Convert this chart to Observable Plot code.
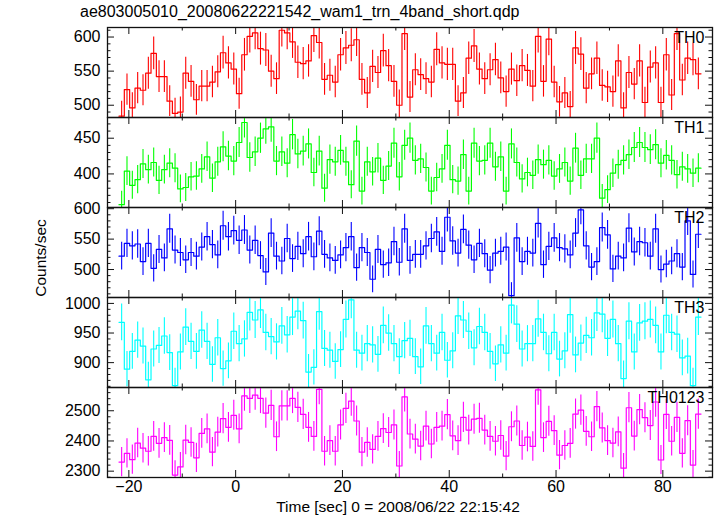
<!DOCTYPE html>
<html><head><meta charset="utf-8">
<script src="https://cdn.jsdelivr.net/npm/d3@7"></script>
<script src="https://cdn.jsdelivr.net/npm/@observablehq/plot@0.6"></script>
<style>
body{margin:0;background:#fff;font-family:"Liberation Sans",Arial,Helvetica,sans-serif;}
#chart{position:relative;width:717px;height:516px;overflow:hidden;background:#fff;}
#chart svg{position:absolute;left:0;}
#title{position:absolute;left:80px;top:4px;font-size:16px;line-height:16px;white-space:nowrap;color:#000;}
#ylab{position:absolute;left:41px;top:258px;font-size:15.5px;line-height:16px;white-space:nowrap;transform:translate(-50%,-50%) rotate(-90deg);color:#000;}
#xlab{position:absolute;left:398px;top:499px;font-size:15.5px;line-height:16px;white-space:nowrap;transform:translateX(-50%);color:#000;}
</style></head>
<body>
<div id="chart">
  <div id="title">ae803005010_20080622221542_wam1_trn_4band_short.qdp</div>
  <div id="ylab">Counts/sec</div>
  <div id="xlab">Time [sec] 0 = 2008/06/22 22:15:42</div>
</div>
<script>
// ---- data ----
const binStart = -21.85;   // start time of first 1-s bin
const binWidth = 1;
const names = ["TH0", "TH1", "TH2", "TH3", "TH0123"];
const colors = ["#ff0000", "#00ff00", "#0000ff", "#00ffff", "#ff00ff"];

const th0 = [484,523,496,525,522,547,576,542,542,506,488,490,547,535,508,528,528,534,549,577,
  562,553,517,574,601,606,583,581,550,539,610,606,593,563,561,565,602,592,538,544,
  534,574,584,588,596,538,518,557,548,580,558,535,500,605,512,552,545,539,534,582,
  562,560,560,506,518,569,587,553,539,552,567,540,520,553,536,558,551,528,601,535,
  597,534,505,518,498,584,575,525,546,569,529,527,520,565,496,548,531,565,504,556,
  562,504,574,515,605,537,569,567,546];

const th1 = [357,404,384,392,414,406,416,391,406,415,408,379,381,396,397,407,424,394,417,438,
  425,418,444,472,423,431,450,463,466,418,431,415,455,428,432,442,402,432,380,420,
  417,433,417,385,446,376,417,403,422,391,411,443,396,440,450,419,421,409,376,395,
  407,440,392,390,427,376,443,418,419,443,410,424,376,442,416,393,402,398,420,413,
  419,397,407,416,390,436,398,421,421,450,366,378,401,413,419,427,437,444,437,434,
  441,415,426,419,399,410,407,401,408];

const th2 = [522,543,539,542,513,543,502,533,519,567,532,528,516,528,522,537,554,541,524,572,
  554,564,548,565,532,548,523,496,560,522,514,551,518,538,526,554,521,563,525,519,
  515,524,536,554,503,536,528,484,533,508,511,546,512,567,515,525,525,539,551,562,
  530,586,547,527,566,540,516,543,526,499,527,530,537,457,552,513,530,527,576,508,
  538,552,536,534,524,560,598,539,504,513,569,557,501,522,519,568,529,546,544,522,
  567,500,509,514,526,504,580,492,558];

const th3 = [968,889,919,938,928,871,923,929,945,917,861,918,960,936,919,955,936,897,942,890,
  903,953,932,940,985,972,989,951,944,935,962,947,977,987,971,884,892,986,924,921,
  902,922,973,1006,921,916,932,930,914,963,950,932,910,937,941,910,893,962,932,916,
  951,904,920,979,972,953,925,961,951,919,898,930,916,997,965,923,932,932,974,951,
  915,951,906,920,981,913,933,946,942,984,982,941,973,932,873,970,918,967,970,973,
  963,918,980,951,948,908,911,861,977];

const th0123 = [2330,2359,2338,2393,2376,2366,2415,2392,2411,2402,2287,2314,2403,2395,2344,2425,2440,2363,2429,2474,
  2445,2485,2440,2549,2541,2552,2541,2492,2518,2414,2516,2516,2541,2511,2488,2445,2415,2571,2366,2401,
  2366,2453,2508,2532,2466,2363,2395,2372,2415,2441,2428,2453,2317,2546,2423,2406,2383,2449,2390,2445,
  2449,2487,2417,2401,2478,2436,2472,2475,2436,2415,2399,2418,2350,2447,2466,2385,2413,2382,2569,2411,
  2465,2434,2353,2385,2392,2489,2502,2432,2414,2514,2443,2401,2393,2430,2310,2510,2416,2504,2477,2451,
  2529,2337,2488,2399,2478,2359,2467,2320,2489];

const series = [th0, th1, th2, th3, th0123];
const yDomains = [[482, 614], [353, 479], [454, 602], [858, 1010], [2279, 2577]];
const yMajorTicks = [[500, 550, 600], [400, 450], [500, 550, 600], [900, 950, 1000], [2300, 2400, 2500]];
const yMinorStep = [10, 10, 10, 10, 20];
const xDomain = [-24, 89.3];
const xMajorTicks = [-20, 0, 20, 40, 60, 80];
const xMinorTicks = [-10, 10, 30, 50, 70];

// ---- layout ----
const W = 717, mL = 107, mR = 5;
const panelTop0 = 27, panelH = 90, pad = 12, bottomM = 44;
const innerW = W - mL - mR;
const majorLen = 7, minorLen = 3.5;
const frameColor = "#111";
const fmt = d => d < 0 ? "\u2212" + (-d) : String(d);
const chart = document.getElementById("chart");

series.forEach((vals, p) => {
  const bins = vals.map((v, i) => ({
    x0: binStart + i * binWidth,
    x1: binStart + (i + 1) * binWidth,
    xc: binStart + (i + 0.5) * binWidth,
    v, e: Math.sqrt(v)
  }));
  const steps = bins.flatMap(b => [{x: b.x0, y: b.v}, {x: b.x1, y: b.v}]);
  const major = yMajorTicks[p];
  const [ya, yb] = yDomains[p];
  const st = yMinorStep[p];
  const minor = d3.range(Math.ceil(ya / st) * st, yb, st).filter(t => !major.includes(t));
  const isLast = p === series.length - 1;
  const mB = isLast ? bottomM : pad;
  const h = panelH + pad + mB;
  const marks = [
    Plot.ruleX(bins, {x: "xc", y1: b => b.v - b.e, y2: b => b.v + b.e, stroke: colors[p], strokeWidth: 1.1, clip: true}),
    Plot.line(steps, {x: "x", y: "y", stroke: colors[p], strokeWidth: 1.2, clip: true}),
    // inward y ticks, left and right
    Plot.ruleY(major, {stroke: frameColor, insetRight: innerW - majorLen}),
    Plot.ruleY(major, {stroke: frameColor, insetLeft: innerW - majorLen}),
    Plot.ruleY(minor, {stroke: frameColor, insetRight: innerW - minorLen}),
    Plot.ruleY(minor, {stroke: frameColor, insetLeft: innerW - minorLen}),
    // inward x ticks, top and bottom
    Plot.ruleX(xMajorTicks, {stroke: frameColor, insetBottom: panelH - majorLen}),
    Plot.ruleX(xMajorTicks, {stroke: frameColor, insetTop: panelH - majorLen}),
    Plot.ruleX(xMinorTicks, {stroke: frameColor, insetBottom: panelH - minorLen}),
    Plot.ruleX(xMinorTicks, {stroke: frameColor, insetTop: panelH - minorLen}),
    Plot.axisY(major, {anchor: "left", tickSize: 0, tickPadding: 7, tickFormat: fmt, fontSize: 16, label: null, fill: "#000"}),
    Plot.text([names[p]], {text: d => d, frameAnchor: "top-right", dx: -8, dy: 4, lineAnchor: "top", fontSize: 16, fill: "#000"}),
    Plot.frame({stroke: frameColor, strokeWidth: 1.3})
  ];
  if (isLast) {
    marks.push(Plot.axisX(xMajorTicks, {anchor: "bottom", tickSize: 0, tickPadding: 3, tickFormat: fmt, fontSize: 16, label: null, fill: "#000"}));
  }
  const svg = Plot.plot({
    width: W, height: h,
    marginLeft: mL, marginRight: mR, marginTop: pad, marginBottom: mB,
    style: {background: "transparent", overflow: "visible", fontFamily: "'Liberation Sans', Arial, sans-serif"},
    x: {domain: xDomain, axis: isLast ? undefined : null},
    y: {domain: yDomains[p]},
    marks
  });
  svg.style.top = (panelTop0 + p * panelH - pad) + "px";
  chart.appendChild(svg);
});
</script>
</body></html>
